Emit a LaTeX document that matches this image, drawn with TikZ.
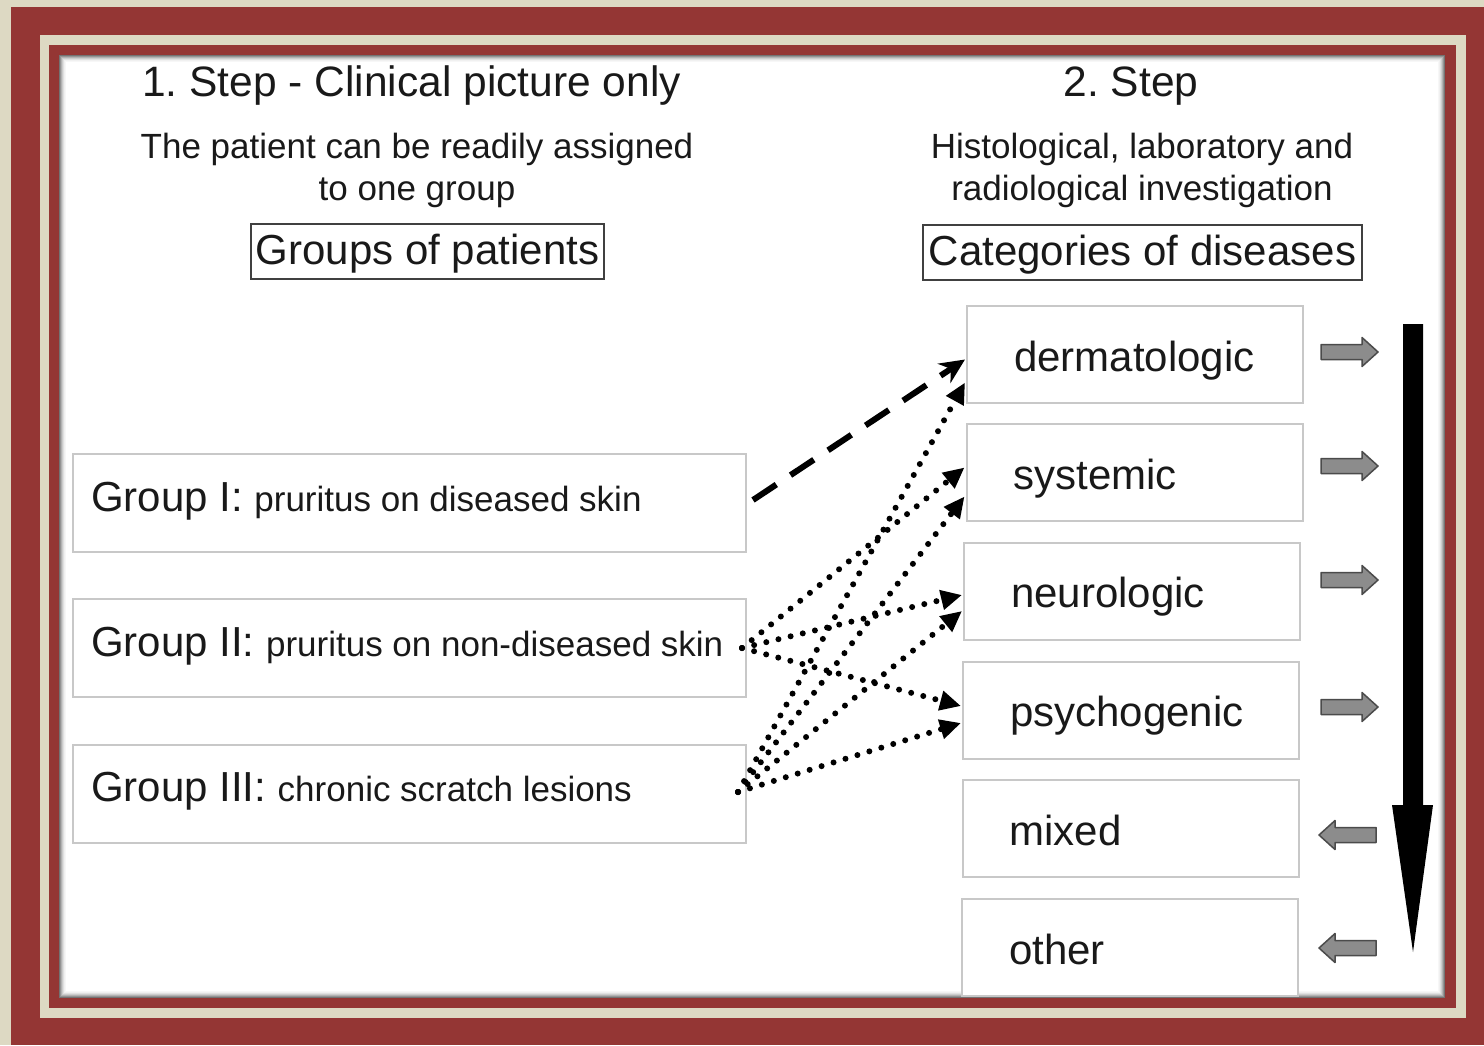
\documentclass[tikz,border=0pt]{standalone}
\usepackage{fontspec}
\setmainfont{Liberation Sans}
\usetikzlibrary{arrows.meta,calc}
\definecolor{frred}{RGB}{148,54,52}
\definecolor{frbeige}{RGB}{221,217,195}
\definecolor{txt}{RGB}{25,25,25}
\definecolor{boxgray}{RGB}{200,200,200}
\definecolor{blkfill}{RGB}{140,140,140}
\definecolor{blkedge}{RGB}{75,75,75}
\newcommand{\ttltxt}{\fontsize{42.5}{48}\selectfont}
\newcommand{\bigtxt}{\fontsize{42}{48}\selectfont}
\newcommand{\midtxt}{\fontsize{35}{42}\selectfont}
\frenchspacing
\tikzset{
  plain/.style={anchor=base, text=txt, inner sep=0pt},
  hdrbox/.style={draw=black!75, line width=1.6pt, inner sep=0pt, font=\bigtxt, text=txt, text height=30pt, text depth=5pt, minimum height=55pt},
  grpbox/.style={draw=boxgray, line width=2pt, fill=white, minimum width=673pt, minimum height=98pt, inner xsep=18pt, inner ysep=0pt, text height=30pt, text depth=14pt, font=\bigtxt, text=txt},
  catbox/.style={draw=boxgray, line width=2pt, fill=white, minimum width=336pt, minimum height=97pt, inner xsep=47pt, inner ysep=0pt, text height=38pt, text depth=5pt, font=\bigtxt, text=txt},
  dashconn/.style={line width=6pt, dash pattern=on 28pt off 17pt, -{Stealth[length=25pt,width=23pt]}},
  dotconn/.style={line width=6pt, line cap=round, dash pattern=on 0pt off 12.5pt, -{Triangle[length=21pt,width=19pt]}},
  rblk/.pic={\filldraw[fill=blkfill, draw=blkedge, line width=1.5pt, line join=round] (-28.5,-7.5) -- (12.5,-7.5) -- (12.5,-14.5) -- (28.5,0) -- (12.5,14.5) -- (12.5,7.5) -- (-28.5,7.5) -- cycle;},
  lblk/.pic={\filldraw[fill=blkfill, draw=blkedge, line width=1.5pt, line join=round] (28.5,-7.5) -- (-12.5,-7.5) -- (-12.5,-14.5) -- (-28.5,0) -- (-12.5,14.5) -- (-12.5,7.5) -- (28.5,7.5) -- cycle;}
}
\begin{document}
\begin{tikzpicture}[x=1pt,y=-1pt]
\useasboundingbox (0,0) rectangle (1484,1045);
% frame
\fill[frbeige] (0,0) rectangle (1484,1045);
\fill[frred] (11,7) rectangle (1484,1045);
\fill[frbeige] (40,35) rectangle (1466,1018);
\fill[frred] (49,45) rectangle (1456,1008);
\fill[white] (59,55) rectangle (1445,998);
\foreach \i/\o in {0/0.55,1/0.42,2/0.3,3/0.2,4/0.12,5/0.06,6/0.03}
  \draw[black, opacity=\o, line width=1pt] (59.5+\i,55.5+\i) rectangle (1444.5-\i,997.5-\i);

% headings
\node[plain, font=\ttltxt] (s1) at (411.5,96) {1. Step - Clinical picture only};
\node[plain, font=\midtxt] (s1a) at (417,158) {The patient can be readily assigned};
\node[plain, font=\midtxt] (s1b) at (417,200) {to one group};
\node[hdrbox, minimum width=353pt] (gp) at (427.5,251.5) {Groups of patients};

\node[plain, font=\ttltxt] (s2) at (1131,96) {2. Step};
\node[plain, font=\midtxt] (s2a) at (1142,158) {Histological, laboratory and};
\node[plain, font=\midtxt] (s2b) at (1142,200) {radiological investigation};
\node[hdrbox, minimum width=439pt] (cd) at (1142.5,252.5) {Categories of diseases};

% groups
\node[grpbox] (g1) at (409.5,503) {\makebox[637pt][l]{Group I: {\midtxt pruritus on diseased skin}}};
\node[grpbox] (g2) at (409.5,648) {\makebox[637pt][l]{Group II: {\midtxt pruritus on non-diseased skin}}};
\node[grpbox] (g3) at (409.5,793.5) {\makebox[637pt][l]{Group III: {\midtxt chronic scratch lesions}}};

% categories
\node[catbox] (derm) at (1135,354.5) {\makebox[242pt][l]{dermatologic}};
\node[catbox] (sys) at (1134.5,472.5) {\makebox[242pt][l]{systemic}};
\node[catbox] (neu) at (1132,591) {\makebox[242pt][l]{neurologic}};
\node[catbox] (psy) at (1131,710) {\makebox[242pt][l]{psychogenic}};
\node[catbox] (mix) at (1130.5,828.5) {\makebox[242pt][l]{mixed}};
\node[catbox] (oth) at (1130,947.5) {\makebox[242pt][l]{other}};

% connectors
\draw[dashconn] ($(g1.east)+(6,-3)$) -- ($(derm.west)+(-1,5)$);
\draw[dotconn] ($(g2.east)+(-5,0)$) -- ($(sys.west)+(-1,-5)$);
\draw[dotconn] ($(g2.east)+(-5,0)$) -- ($(neu.west)+(-1,4)$);
\draw[dotconn] ($(g2.east)+(-5,0)$) -- ($(psy.west)+(-1,-4)$);
\draw[dotconn] ($(g3.east)+(-9,-1.5)$) -- ($(derm.west)+(-1,28)$);
\draw[dotconn] ($(g3.east)+(-9,-1.5)$) -- ($(sys.west)+(-1,24)$);
\draw[dotconn] ($(g3.east)+(-9,-1.5)$) -- ($(neu.west)+(-1,20)$);
\draw[dotconn] ($(g3.east)+(-9,-1.5)$) -- ($(psy.west)+(-1,13)$);

% side arrows
\pic at (1349.5,352) {rblk};
\pic at (1349.5,466) {rblk};
\pic at (1349.5,580) {rblk};
\pic at (1349.5,707) {rblk};
\pic at (1347.5,835) {lblk};
\pic at (1347.5,948) {lblk};

% big downward arrow
\fill[black] (1403,324) -- (1423,324) -- (1423,805) -- (1433,805) -- (1413,952) -- (1392,805) -- (1403,805) -- cycle;
\end{tikzpicture}
\end{document}
